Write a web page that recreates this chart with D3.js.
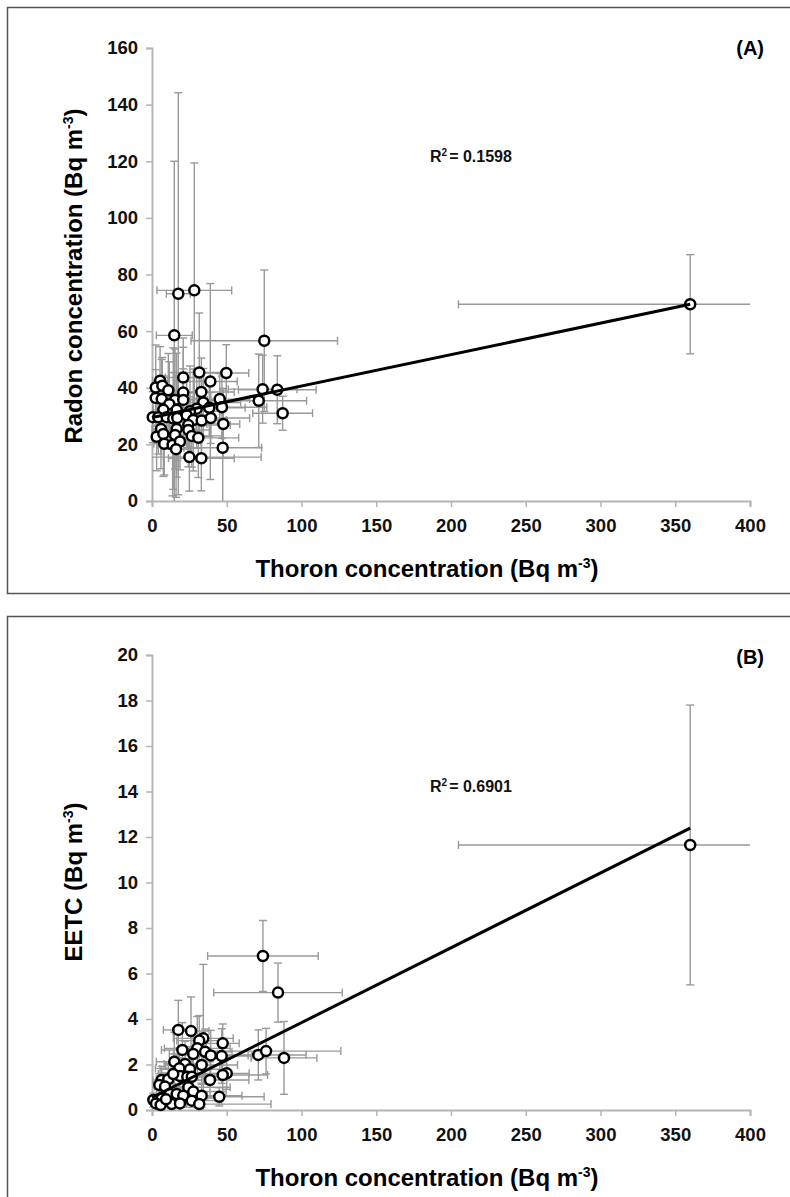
<!DOCTYPE html>
<html>
<head>
<meta charset="utf-8">
<script src="https://cdnjs.cloudflare.com/ajax/libs/d3/7.8.5/d3.min.js"></script>
<style>
body{margin:0;background:#fff}
svg{display:block;font-family:"Liberation Sans",Arial,sans-serif;font-weight:bold}
</style>
</head>
<body>
<svg id="chart" width="790" height="1197"></svg>
<script>
// panel A : thoron vs radon
var thoronA    = [14.9,31.6,49.7,20.9,39,5.4,2.5,6.9,10.9,20.9,33,2.5,6.5,15.4,20.9,11.6,34.3,45.3,46.8,29.9,16.5,7.6,25.4,38.3,0.5,4.2,9.8,14.2,16.9,23.2,27.6,33.2,39.3,47.7,6,16.5,24.3,24.3,3.1,7.6,15.4,26.6,31,8.2,13.8,18.7,16.1,47.3,25,33,75.1,74,83.8,71.4,87.4,17.6,28.3,360];
var thoronErrA = [12,20,15,12,18,5,3,8,10,14,22,3,6,12,16,9,25,20,30,18,12,7,20,24,2,4,8,11,14,18,22,17,26,11,6,13,28,15,3,7,12,20,27,7,10,14,10,26,48,22,49,23,26,32,20,8,25,155];
var radon      = [58.5,45.4,45.2,43.6,42.2,42.5,40.1,40.7,39.1,38.3,38.5,36.4,36,35.7,35.7,34.2,34.8,36,33.1,32.6,32.2,32.2,31.7,32.9,29.6,29.6,29.6,29.1,29.3,30.3,28.6,28.4,29.3,27.2,25.4,25.4,26.8,25.1,22.7,23.7,23.3,23,22.3,20.2,19.8,21,18.3,18.8,15.5,15.1,56.6,39.5,39.3,35.4,31,73.2,74.4,69.5];
var radonErr   = [61.5,21,10,14,34.6,12,15,10,13,16,12,10,14,18,11,15,12,9,11,14,20,12,16,10,9,13,11,25,15,12,18,14,9,12,14,17,10,13,12,15,12,11,14,11,18,10,17,21,12,11.5,25,12,12,16.5,6,71,45,17.5];

// panel B : thoron vs EETC
var thoronB    = [74.2,84.3,88.3,360,17.6,26.1,34.3,31.6,47.3,20.3,30.3,35.5,39.3,46.6,27.6,71.1,76.3,14.9,22.1,18.3,25.4,33.2,50,47.3,38.8,18.7,23.6,6.5,10.9,14.2,26.6,4.9,8.7,24.3,27.6,12,16.5,20.9,33.2,45,0.9,6.5,2.7,5.8,13.2,18.7,26.6,31.6,9.4];
var thoronErrB = [37,43,22,155,10,12,20,15,11,14,22,18,25,20,16,32,50,12,14,16,20,24,15,30,26,12,18,6,8,10,20,4,7,28,22,9,12,16,27,30,2,5,3,6,10,14,20,48,7];
var eetc       = [6.77,5.16,2.29,11.65,3.52,3.47,3.15,3.05,2.93,2.64,2.71,2.56,2.4,2.37,2.46,2.42,2.59,2.12,2.02,1.83,1.79,1.98,1.61,1.54,1.32,1.49,1.46,1.32,1.35,1.58,1.46,1.1,1.03,1,0.81,0.7,0.7,0.63,0.63,0.58,0.44,0.51,0.29,0.22,0.26,0.29,0.41,0.26,0.47];
var eetcErr    = [1.56,1.3,1.6,6.15,1.3,1.5,3.25,1.1,0.85,1.2,1.4,1,1.1,1.2,1,1.1,1,1.3,1,0.9,1,0.8,0.7,0.9,0.8,0.8,0.7,0.6,0.7,0.6,0.8,0.5,0.6,0.6,0.5,0.5,0.4,0.5,0.5,0.4,0.3,0.3,0.3,0.2,0.3,0.3,0.3,0.3,0.3];

var xTicks = [0,50,100,150,200,250,300,350,400];
var radonTicks = [0,20,40,60,80,100,120,140,160];
var eetcTicks = [0,2,4,6,8,10,12,14,16,18,20];

// trend lines: [intercept, slope], drawn over [0, 360]
var fitA = [29.5,0.111];
var fitB = [0.55,0.0329];
var fitRange = [0,360];
var r2A = "0.1598", r2B = "0.6901";

var svg = d3.select("#chart");

function drawPanel(p){
    var g = svg.append("g");
    // frame
    g.append("rect").attr("x",7.5).attr("y",p.boxTop+0.5).attr("width",800).attr("height",p.boxH)
        .style("fill","none").style("stroke","#555").style("stroke-width",1.5);

    var x = d3.scaleLinear().domain([0,400]).range([152,750]);
    var y = d3.scaleLinear().domain([0,p.yMax]).range([p.y0,p.yTop]);
    var gray = "#999";

    // axes
    var xa = g.append("g").attr("transform","translate(0,"+p.y0+")")
        .call(d3.axisBottom(x).tickValues(xTicks).tickSize(6).tickPadding(12).tickFormat(d3.format("d")));
    var ya = g.append("g").attr("transform","translate("+x(0)+",0)")
        .call(d3.axisLeft(y).tickValues(p.yTicks).tickSize(6).tickPadding(8).tickFormat(d3.format("d")));
    [xa,ya].forEach(function(a){
        a.select(".domain").style("stroke","#b5b5b5").style("stroke-width",2);
        a.selectAll(".tick line").style("stroke","#b5b5b5").style("stroke-width",1.5);
        a.selectAll(".tick text").style("font-size","18.5px").style("font-weight","bold").style("font-family","inherit").style("fill","#111");
    });

    // error bars
    var eb = g.append("g").style("stroke",gray).style("stroke-width",1.4).style("fill","none");
    var cap = 4;
    p.xs.forEach(function(xv,i){
        var yv = p.ys[i], ex = p.xe[i], ey = p.ye[i];
        var lo = Math.max(0,xv-ex), hi = Math.min(400,xv+ex);
        eb.append("line").attr("x1",x(lo)).attr("x2",x(hi)).attr("y1",y(yv)).attr("y2",y(yv));
        if(xv-ex>=0) eb.append("line").attr("x1",x(lo)).attr("x2",x(lo)).attr("y1",y(yv)-cap).attr("y2",y(yv)+cap);
        if(xv+ex<=400) eb.append("line").attr("x1",x(hi)).attr("x2",x(hi)).attr("y1",y(yv)-cap).attr("y2",y(yv)+cap);
        var vlo = Math.max(0,yv-ey), vhi = Math.min(p.yMax,yv+ey);
        eb.append("line").attr("x1",x(xv)).attr("x2",x(xv)).attr("y1",y(vlo)).attr("y2",y(vhi));
        if(yv-ey>=0) eb.append("line").attr("x1",x(xv)-cap).attr("x2",x(xv)+cap).attr("y1",y(vlo)).attr("y2",y(vlo));
        if(yv+ey<=p.yMax) eb.append("line").attr("x1",x(xv)-cap).attr("x2",x(xv)+cap).attr("y1",y(vhi)).attr("y2",y(vhi));
    });

    // points
    g.append("g").selectAll("circle").data(p.xs).enter().append("circle")
        .attr("cx",function(d){return x(d);})
        .attr("cy",function(d,i){return y(p.ys[i]);})
        .attr("r",5)
        .style("fill","#fff").style("stroke","#000").style("stroke-width",2.5);

    // trend line
    var line = d3.line().x(function(d){return x(d);}).y(function(d){return y(p.fit[0]+p.fit[1]*d);});
    g.append("path").datum(fitRange).attr("d",line)
        .style("stroke","#000").style("stroke-width",3).style("fill","none");

    // R2
    var rt = g.append("text").attr("x",p.r2x).attr("y",p.r2y).style("font-size","16px").style("fill","#111");
    rt.append("tspan").text("R");
    rt.append("tspan").text("2").style("font-size","10px").attr("dy",-6);
    rt.append("tspan").text("= "+p.r2).attr("dy",6).attr("dx",2);

    // panel tag
    g.append("text").attr("x",764).attr("y",p.tagY).attr("text-anchor","end").style("font-size","20px").text(p.tag);

    // axis titles
    var xt = g.append("text").attr("x",427).attr("y",p.xTitleY).attr("text-anchor","middle").style("font-size","24px");
    xt.append("tspan").text("Thoron concentration (Bq m");
    xt.append("tspan").text("-3").style("font-size","14px").attr("dy",-9);
    xt.append("tspan").text(")").attr("dy",9);

    var yt = g.append("text").attr("transform","translate(82,"+p.yTitleC+") rotate(-90)").attr("text-anchor","middle").style("font-size","24px");
    yt.append("tspan").text(p.yTitle+" (Bq m");
    yt.append("tspan").text("-3").style("font-size","14px").attr("dy",-9);
    yt.append("tspan").text(")").attr("dy",9);
}

drawPanel({boxTop:7,boxH:586,y0:501,yTop:48,yMax:160,yTicks:radonTicks,
    xs:thoronA,xe:thoronErrA,ys:radon,ye:radonErr,fit:fitA,r2:r2A,r2x:430,r2y:162,
    tag:"(A)",tagY:55,xTitleY:577,yTitleC:276,yTitle:"Radon concentration"});
drawPanel({boxTop:616,boxH:600,y0:1110,yTop:655,yMax:20,yTicks:eetcTicks,
    xs:thoronB,xe:thoronErrB,ys:eetc,ye:eetcErr,fit:fitB,r2:r2B,r2x:430,r2y:792,
    tag:"(B)",tagY:664,xTitleY:1186,yTitleC:882,yTitle:"EETC"});
</script>
</body>
</html>
